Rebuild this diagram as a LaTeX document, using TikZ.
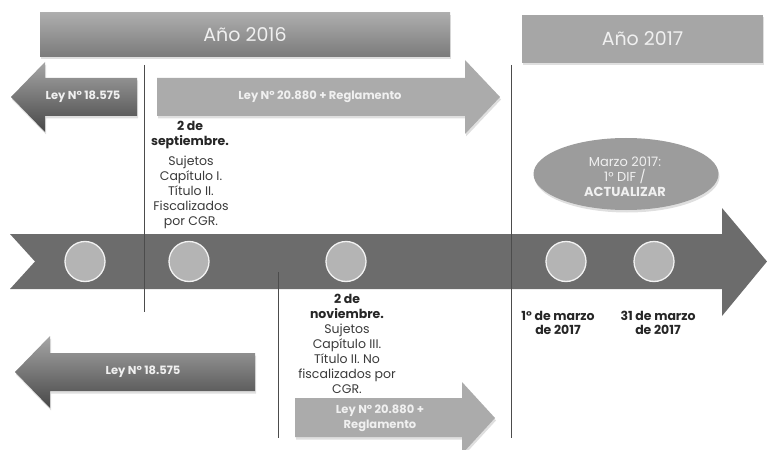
\documentclass[tikz,border=0pt]{standalone}
\usepackage{fontspec}
\setmainfont{Poppins}
\usetikzlibrary{shadows,shapes.geometric}
\definecolor{bandgray}{HTML}{6C6C6C}
\definecolor{dotgray}{HTML}{B4B4B4}
\definecolor{lightarrow}{HTML}{ABABAB}
\definecolor{ellgray}{HTML}{9C9C9C}
\definecolor{txtgray}{HTML}{3A3A3A}
\definecolor{whtxt}{HTML}{F0F0F0}
\begin{document}
\begin{tikzpicture}[x=1pt,y=-1pt,
  sh/.style={drop shadow={opacity=0.25,shadow xshift=1pt,shadow yshift=-2.5pt}},
  bannerbox/.style={rectangle,inner sep=0pt,text=whtxt,font=\fontsize{19}{22}\selectfont,sh},
  arrowtxt/.style={font=\bfseries\fontsize{11.5}{15}\selectfont,text=whtxt,align=center,inner sep=0pt},
  dot/.style={circle,fill=dotgray,draw=white!95!black,line width=1.3pt,minimum size=40pt,inner sep=0pt},
  bodytxt/.style={font=\fontsize{12.5}{15}\selectfont,text=txtgray,align=center,inner sep=0pt},
  datetxt/.style={font=\bfseries\fontsize{12.5}{14.5}\selectfont,text=black!85,align=center,inner sep=0pt},
  divider/.style={draw=black!70,line width=0.8pt},
  darkarrow/.style={top color=black!35,bottom color=black!72,sh},
  lightarr/.style={fill=lightarrow,sh}
]
\useasboundingbox (0,0) rectangle (767,449);
\clip (0,0) rectangle (767,449);

% year banners
\node[bannerbox,minimum width=410pt,minimum height=44pt,top color=black!32,bottom color=black!52] (y16) at (245,35) {Año 2016};
\node[bannerbox,minimum width=241pt,minimum height=48pt,fill=black!35] (y17) at (642.5,39) {Año 2017};

% top arrows
\path[darkarrow] (11,97) -- (45,62) -- (45,78) -- (137,78) -- (137,116) -- (45,116) -- (45,132) -- cycle;
\node[arrowtxt] (ley1) at (83,97) {Ley N° 18.575};
\path[lightarr] (157,78) -- (465,78) -- (465,60) -- (500,97) -- (465,134) -- (465,116) -- (157,116) -- cycle;
\node[arrowtxt] (ley2) at (320,97) {Ley N° 20.880 + Reglamento};

% main band
\path[fill=bandgray] (10,234) -- (722,234) -- (722,208) -- (767,261.5) -- (722,316) -- (722,289) -- (10,289) -- (35,261.5) -- cycle;

% dividers
\coordinate (d1a) at (144,65); \coordinate (d1b) at (144,312);
\coordinate (d2a) at (278,272); \coordinate (d2b) at (278,438);
\coordinate (d3a) at (511,65); \coordinate (d3b) at (511,438);
\draw[divider] (d1a) -- (d1b);
\draw[divider] (d2a) -- (d2b);
\draw[divider] (d3a) -- (d3b);

% dots
\node[dot] (c1) at (85,261.5) {};
\node[dot] (c2) at (189,261.5) {};
\node[dot] (c3) at (346,261.5) {};
\node[dot] (c4) at (566,261.5) {};
\node[dot] (c5) at (654,261.5) {};

% september text
\node[datetxt] (sep) at (190,135) {2 de\\septiembre.};
\node[bodytxt] (sepb) at (191,192.5) {Sujetos\\Capítulo I.\\Título II.\\Fiscalizados\\por CGR.};

% november text
\node[bodytxt,anchor=north] (nov) at (347,294) {\textbf{\color{black!85}2 de}\\\textbf{\color{black!85}noviembre.}\\Sujetos\\Capítulo III.\\Título II. No\\fiscalizados por\\CGR.};

% march texts
\node[datetxt] (m1) at (558,323) {1° de marzo\\de 2017};
\node[datetxt] (m2) at (658,323) {31 de marzo\\de 2017};

% ellipse
\node[ellipse,minimum width=185pt,minimum height=72pt,fill=ellgray,sh,inner sep=0pt] (mz) at (626,174) {};
\node[font=\fontsize{13}{15}\selectfont,text=whtxt,align=center,inner sep=0pt] (mzt) at (625,177) {Marzo 2017:\\1° DIF /\\\textbf{ACTUALIZAR}};

% bottom arrows
\path[darkarrow] (15,372) -- (50,336) -- (50,353) -- (255,353) -- (255,391) -- (50,391) -- (50,408) -- cycle;
\node[arrowtxt] (ley3) at (143,372) {Ley N° 18.575};
\path[lightarr] (295,398) -- (462,398) -- (462,382) -- (495,418) -- (462,454) -- (462,437) -- (295,437) -- cycle;
\node[arrowtxt] (ley4) at (380,418) {Ley N° 20.880 +\\Reglamento};
\end{tikzpicture}
\end{document}
